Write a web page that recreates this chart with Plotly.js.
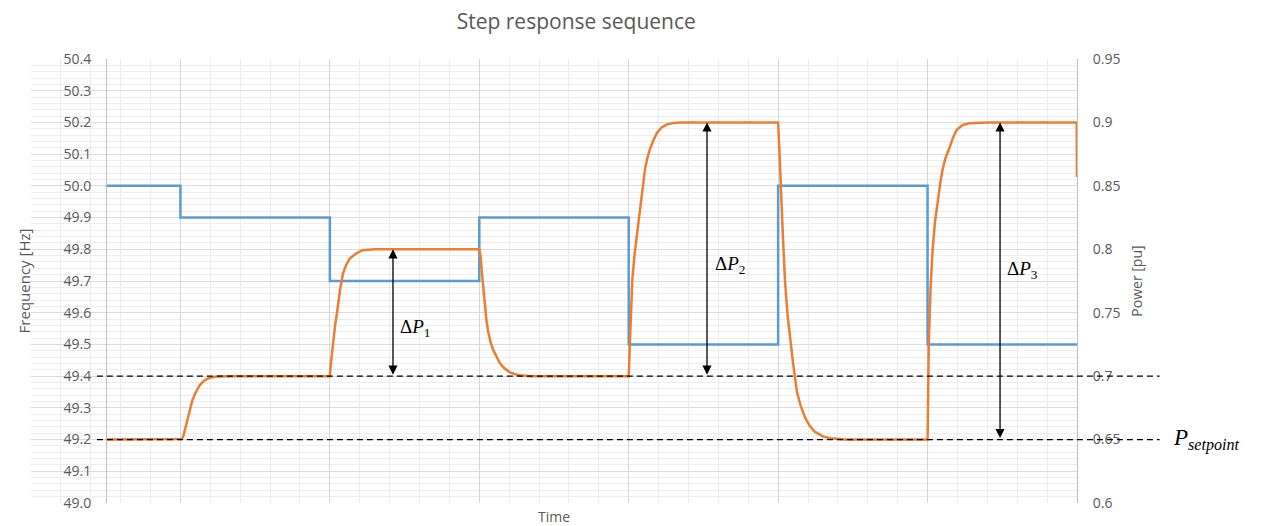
<!DOCTYPE html>
<html>
<head>
<meta charset="utf-8">
<script src="https://cdn.plot.ly/plotly-3.0.1.min.js"></script>
<style>
  html, body { margin: 0; padding: 0; background: #fff; }
  #plotStep { width: 1261px; height: 526px; }
</style>
</head>
<body>
<div id="plotStep"></div>
<script>
// Frequency steps (Hz), held from each time until the next
var freqTime = [0.5, 1, 2, 3, 4, 5, 6, 7];
var freqHz = [50.0, 49.9, 49.7, 49.9, 49.5, 50.0, 49.5, 49.5];

// Power response (pu)
var powerTime = [
  0.5, 1.0, 1.01, 1.02, 1.03, 1.045, 1.065, 1.08, 1.1, 1.115, 1.13, 1.155, 1.18, 1.215, 1.25, 1.35,
  2.0, 2.005, 2.02, 2.035, 2.048, 2.068, 2.088, 2.11, 2.135, 2.16, 2.18, 2.22, 2.26, 2.3,
  3.0, 3.008, 3.018, 3.028, 3.038, 3.048, 3.058, 3.075, 3.092, 3.115, 3.139, 3.17, 3.205, 3.24, 3.272, 3.34,
  4.0, 4.006, 4.012, 4.024, 4.04, 4.057, 4.077, 4.095, 4.11, 4.125, 4.142, 4.165, 4.19, 4.22, 4.256, 4.3, 4.35,
  5.0, 5.006, 5.013, 5.03, 5.046, 5.063, 5.08, 5.1, 5.126, 5.15, 5.18, 5.21, 5.247, 5.3, 5.35, 5.45,
  6.0, 6.004, 6.008, 6.02, 6.034, 6.05, 6.068, 6.085, 6.1, 6.12, 6.147, 6.17, 6.194, 6.235, 6.28, 6.4,
  6.998, 7.0
];
var powerPu = [
  0.65, 0.65, 0.6505, 0.653, 0.658, 0.666, 0.6755, 0.681, 0.6865, 0.69, 0.693, 0.696, 0.698, 0.6992, 0.6997, 0.7,
  0.7, 0.708, 0.726, 0.74, 0.75, 0.768, 0.781, 0.788, 0.793, 0.7955, 0.797, 0.7993, 0.7998, 0.8,
  0.8, 0.795, 0.781, 0.767, 0.7545, 0.744, 0.736, 0.727, 0.721, 0.715, 0.71, 0.706, 0.703, 0.7015, 0.7007, 0.7,
  0.7, 0.72, 0.74, 0.776, 0.797, 0.814, 0.836, 0.853, 0.864, 0.872, 0.879, 0.886, 0.892, 0.896, 0.8985, 0.8996, 0.9,
  0.9, 0.888, 0.865, 0.815, 0.775, 0.748, 0.73, 0.71, 0.6875, 0.677, 0.6675, 0.661, 0.656, 0.6525, 0.651, 0.65,
  0.65, 0.69, 0.725, 0.77, 0.8, 0.822, 0.839, 0.852, 0.8625, 0.872, 0.88, 0.888, 0.894, 0.898, 0.8993, 0.9,
  0.9, 0.857
];

// reference levels and the three power deltas
var setpoint = 0.65;
var level1 = 0.7;
var deltas = [
  {t: 2.4225, from: 0.7, to: 0.8, label: '1'},
  {t: 4.524, from: 0.7, to: 0.9, label: '2'},
  {t: 6.485, from: 0.65, to: 0.9, label: '3'}
];
var deltaLabelPos = [[2.57, 0.738], [4.678, 0.7876], [6.632, 0.7837]];

function drawStep(plotDiv) {
  var grey = '#595959';
  var font = 'Open Sans, sans-serif';
  var mathFont = 'Liberation Serif, serif';

  var freq = {
    x: freqTime,
    y: freqHz,
    yaxis: 'y',
    type: 'scatter',
    mode: 'lines',
    line: {color: '#5b9bd5', width: 2.5, shape: 'hv'}
  };

  var power = {
    x: powerTime,
    y: powerPu,
    yaxis: 'y2',
    type: 'scatter',
    mode: 'lines',
    line: {color: '#ed7d31', width: 2.5, shape: 'linear'}
  };

  var shapes = [setpoint, level1].map(function (lv) {
    return {
      type: 'line',
      xref: 'paper', yref: 'y2',
      x0: 0.063, x1: 1.079,
      y0: lv, y1: lv,
      layer: 'above',
      line: {color: '#000', width: 1.3, dash: '6px,4px'}
    };
  });

  var annotations = [];
  deltas.forEach(function (d, i) {
    annotations.push({
      x: d.t, y: d.to, xref: 'x', yref: 'y2',
      ax: d.t, ay: d.from, axref: 'x', ayref: 'y2',
      text: '',
      showarrow: true,
      arrowside: 'end+start',
      arrowhead: 2,
      startarrowhead: 2,
      arrowsize: 1.4,
      startarrowsize: 1.4,
      arrowwidth: 1.3,
      arrowcolor: '#000',
      standoff: 0,
      startstandoff: 0
    });
    annotations.push({
      x: deltaLabelPos[i][0], y: deltaLabelPos[i][1], xref: 'x', yref: 'y2',
      text: '\u0394<i>P</i><sub>' + d.label + '</sub>',
      showarrow: false,
      font: {family: mathFont, size: 19, color: '#000'}
    });
  });
  annotations.push({
    x: 1.09, y: setpoint, xref: 'paper', yref: 'y2',
    xanchor: 'left', yanchor: 'middle',
    text: '<i>P</i><sub><i>setpoint</i></sub>',
    showarrow: false,
    font: {family: mathFont, size: 23, color: '#000'}
  });

  var layout = {
    width: 1261,
    height: 526,
    paper_bgcolor: '#fff',
    plot_bgcolor: '#fff',
    showlegend: false,
    margin: {l: 31, r: 184, t: 59, b: 23},
    font: {family: font, color: grey},
    title: {
      text: 'Step response sequence',
      x: 0.457, xref: 'container', xanchor: 'center',
      y: 0.958, yref: 'container', yanchor: 'middle',
      font: {family: font, size: 21, color: grey}
    },
    xaxis: {
      range: [0, 7],
      dtick: 1,
      tick0: 0,
      ticks: '',
      showticklabels: false,
      showgrid: true,
      gridcolor: '#d6d6d6',
      gridwidth: 1,
      minor: {dtick: 0.2, ticks: '', ticklen: 0, showgrid: true, gridcolor: '#ececec', gridwidth: 1},
      zeroline: false,
      showline: false,
      title: {text: 'Time', standoff: 9, font: {family: font, size: 14, color: grey}}
    },
    yaxis: {
      range: [49.0, 50.4],
      dtick: 0.1,
      tick0: 49.0,
      tickformat: '.1f',
      anchor: 'free',
      position: 0.0717,
      showline: true,
      linecolor: '#bfbfbf',
      linewidth: 1,
      showgrid: true,
      gridcolor: '#dcdcdc',
      minor: {dtick: 0.02, ticks: '', ticklen: 0, showgrid: true, gridcolor: '#eeeeee'},
      zeroline: false,
      ticks: '',
      ticklabelstandoff: 12,
      tickfont: {family: font, size: 14, color: grey},
      automargin: false,
      title: {text: 'Frequency [Hz]', standoff: 28, font: {family: font, size: 15, color: grey}}
    },
    yaxis2: {
      range: [0.6, 0.95],
      dtick: 0.05,
      tick0: 0.6,
      overlaying: 'y',
      side: 'right',
      anchor: 'x',
      showgrid: false,
      zeroline: false,
      showline: true,
      linecolor: '#bfbfbf',
      linewidth: 1,
      ticks: '',
      ticklabelstandoff: 12,
      tickfont: {family: font, size: 14, color: grey},
      automargin: false,
      title: {text: 'Power [pu]', standoff: 12, font: {family: font, size: 14, color: grey}}
    },
    shapes: shapes,
    annotations: annotations
  };

  Plotly.newPlot(plotDiv, [freq, power], layout, {displayModeBar: false});
}

drawStep(document.getElementById('plotStep'));
</script>
</body>
</html>
